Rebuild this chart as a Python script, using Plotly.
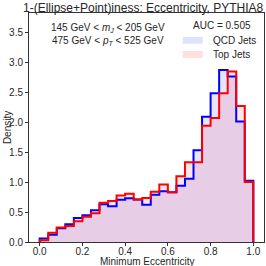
import numpy as np
import plotly.graph_objects as go

bin_edges = [round(0.04 * i, 2) for i in range(26)]
qcd_density = [0.06, 0.12, 0.23, 0.295, 0.40, 0.445, 0.53, 0.63, 0.595, 0.705,
               0.73, 0.71, 0.62, 0.79, 0.845, 0.83, 0.94, 1.055, 1.53, 2.09,
               2.48, 2.87, 2.76, 2.01, 1.02]
top_density = [0.03, 0.155, 0.24, 0.265, 0.345, 0.42, 0.48, 0.655, 0.685, 0.775,
               0.805, 0.71, 0.735, 0.84, 0.96, 0.83, 1.095, 1.33, 1.33, 1.94,
               2.07, 2.48, 2.845, 2.27, 1.0]
x_ticks = [0.0, 0.2, 0.4, 0.6, 0.8, 1.0]
y_ticks = [0.0, 0.5, 1.0, 1.5, 2.0, 2.5, 3.0, 3.5]

title = "1-(Ellipse+Point)iness: Eccentricity, PYTHIA8"
x_title = "Minimum Eccentricity"
y_title = "Density"
auc_text = "AUC = 0.505"
cut_lines = ["145 GeV &lt; <i>m<sub>J</sub></i> &lt; 205 GeV",
             "475 GeV &lt; <i>p<sub>T</sub></i> &lt; 525 GeV"]
labels = ["QCD Jets", "Top Jets"]

FONT = "Liberation Sans, Arial, sans-serif"
TXT = "#262626"


def step_xy(edges, vals):
    xs = [edges[0]] + list(edges[:-1]) + [edges[-1], edges[-1]]
    ys = [0.0] + list(vals) + [vals[-1], 0.0]
    return xs, ys


fig = go.Figure()
series = [(qcd_density, "0,0,255"), (top_density, "255,0,0")]
for vals, rgb in series:
    xs, ys = step_xy(bin_edges, vals)
    fig.add_trace(go.Scatter(x=xs, y=ys, mode="lines", line_shape="hv",
                             line=dict(width=0), fill="tozeroy",
                             fillcolor=f"rgba({rgb},0.1)", hoverinfo="skip",
                             showlegend=False))
for vals, rgb in series:
    xs, ys = step_xy(bin_edges, vals)
    fig.add_trace(go.Scatter(x=xs, y=ys, mode="lines", line_shape="hv",
                             line=dict(width=2, color=f"rgb({rgb})"),
                             showlegend=False))

axis_common = dict(showline=True, linecolor="#333333", linewidth=1, mirror=True,
                   ticks="outside", ticklen=3, tickwidth=1, tickcolor="#333333",
                   showgrid=False, zeroline=False, automargin=False,
                   tickfont=dict(family=FONT, size=10, color=TXT))

fig.update_xaxes(range=[-0.05, 1.05], tickvals=x_ticks, ticklabelstandoff=-3,
                 ticktext=[f"{v:.1f}" for v in x_ticks], **axis_common)
fig.update_yaxes(range=[0, 3.82], tickvals=y_ticks,
                 ticktext=[f"{v:.1f}" for v in y_ticks], **axis_common)

tf = dict(family=FONT, size=10, color=TXT)
annotations = [
    dict(text=x_title, x=0.5, y=-0.084, xref="paper", yref="paper",
         xanchor="center", yanchor="middle", showarrow=False, font=tf),
    dict(text=y_title, x=-0.091, y=0.5, xref="paper", yref="paper",
         xanchor="center", yanchor="middle", showarrow=False, textangle=-90, font=tf),
]
for txt, yp in zip(cut_lines, [0.933, 0.876]):
    annotations.append(dict(text=txt, x=0.336, y=yp, xref="paper", yref="paper",
                            xanchor="center", yanchor="middle", showarrow=False,
                            font=tf))
annotations.append(dict(text=auc_text, x=0.82, y=0.946, xref="paper", yref="paper",
                        xanchor="center", yanchor="middle", showarrow=False,
                        font=tf))
shapes = []
for lab, (y0, y1), rgb in zip(labels, [(0.866, 0.895), (0.8035, 0.834)],
                              ["0,0,255", "255,0,0"]):
    shapes.append(dict(type="rect", xref="paper", yref="paper", x0=0.654, x1=0.7395,
                       y0=y0, y1=y1, fillcolor=f"rgba({rgb},0.12)",
                       line=dict(width=0), layer="above"))
    annotations.append(dict(text=lab, x=0.776, y=(y0 + y1) / 2, xref="paper",
                            yref="paper", xanchor="left", yanchor="middle",
                            showarrow=False, font=tf))

fig.update_layout(
    width=266, height=266,
    margin=dict(l=29, r=2, t=13, b=24, autoexpand=False),
    paper_bgcolor="white", plot_bgcolor="white",
    title=dict(text=title, x=0.538, xref="container", xanchor="center",
               y=1 - 7.5 / 266, yref="container", yanchor="middle",
               font=dict(family=FONT, size=12, color=TXT)),
    annotations=annotations, shapes=shapes,
    showlegend=False,
)

fig.write_html("out.html", config={"displayModeBar": False},
               post_script="document.body.style.margin='0';"
                           "document.body.style.overflow='hidden';")
